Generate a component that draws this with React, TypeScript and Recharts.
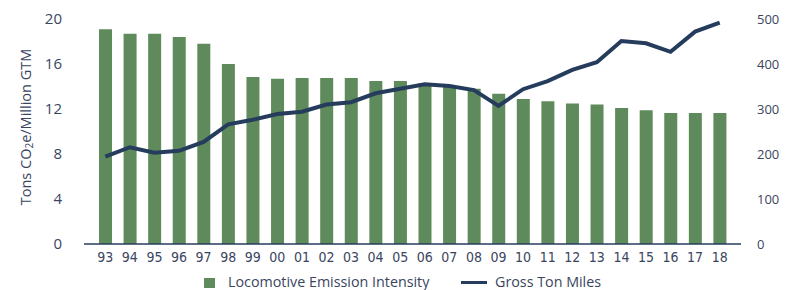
import React from "react";
import { ComposedChart, Bar, Line, XAxis, YAxis, Legend, Label } from "recharts";

const years = ["93","94","95","96","97","98","99","00","01","02","03","04","05","06","07","08","09","10","11","12","13","14","15","16","17","18"];
const emissionIntensity = [19.1,18.7,18.7,18.4,17.8,16.0,14.85,14.7,14.75,14.75,14.75,14.5,14.5,14.3,14.0,13.8,13.35,12.9,12.7,12.5,12.4,12.1,11.9,11.65,11.65,11.65];
const grossTonMiles = [194,215,203,207,227,266,276,289,294,310,315,335,345,355,351,342,307,344,362,387,404,451,446,427,472,492];
const leftTicks = [0,4,8,12,16,20];
const rightTicks = [0,100,200,300,400,500];

const data = years.map((y, i) => ({ year: y, intensity: emissionIntensity[i], gtm: grossTonMiles[i] }));

const GREEN = "#5f8a5b";
const NAVY = "#263c5c";
const TEXT = "#3a4560";

const renderTitle = () => (
  <text x={25} y={127} transform="rotate(-90 25 127)" textAnchor="middle" dominantBaseline="central" fill={TEXT} fontFamily="'Open Sans', sans-serif" fontSize={14.5}>
    <tspan>Tons CO</tspan>
    <tspan fontSize={10} dy={4}>2</tspan>
    <tspan dy={-4}>e/Million GTM</tspan>
  </text>
);

const renderLegend = () => (
  <div style={{ height: 26, position: "relative", fontFamily: "'Open Sans', sans-serif", fontSize: 14.3, color: TEXT }}>
    <div style={{ position: "absolute", left: 204, top: 14, width: 11, height: 10, background: GREEN }} />
    <div style={{ position: "absolute", left: 228, top: 8, lineHeight: "20px", whiteSpace: "nowrap" }}>Locomotive Emission Intensity</div>
    <div style={{ position: "absolute", left: 461, top: 17, width: 26, height: 3, background: NAVY }} />
    <div style={{ position: "absolute", left: 495, top: 8, lineHeight: "20px", whiteSpace: "nowrap" }}>Gross Ton Miles</div>
  </div>
);

export default function App() {
  return (
    <div style={{ position: "absolute", left: 0, top: 0, width: 793, height: 290, background: "#fff" }}>
      <ComposedChart width={793} height={290} data={data} margin={{ top: 19, right: 0, left: 0, bottom: 0 }}>
        <XAxis
          dataKey="year"
          height={20}
          padding={{ left: 9, right: 9 }}
          tickLine={false}
          axisLine={{ stroke: NAVY, strokeWidth: 1.5 }}
          interval={0}
          tick={{ fill: TEXT, fontSize: 14, fontFamily: "'Liberation Sans Narrow', 'DejaVu Sans Condensed', sans-serif" }}
        />
        <YAxis
          yAxisId="left"
          orientation="left"
          width={84}
          domain={[0, 20]}
          ticks={leftTicks}
          axisLine={false}
          tickLine={false}
          tickMargin={16}
          tick={{ fill: TEXT, fontSize: 15, fontFamily: "'Open Sans', sans-serif" }}
        >
          <Label content={renderTitle} />
        </YAxis>
        <YAxis
          yAxisId="right"
          orientation="right"
          width={52}
          domain={[0, 500]}
          ticks={rightTicks}
          axisLine={false}
          tickLine={false}
          tickMargin={10}
          tick={{ fill: TEXT, fontSize: 13, fontFamily: "'Open Sans', sans-serif" }}
        />
        <Legend verticalAlign="bottom" align="left" content={renderLegend} wrapperStyle={{ left: 0, width: 793 }} />
        <Bar yAxisId="left" dataKey="intensity" name="Locomotive Emission Intensity" fill={GREEN} barSize={13} isAnimationActive={false} />
        <Line yAxisId="right" dataKey="gtm" name="Gross Ton Miles" type="linear" stroke={NAVY} strokeWidth={4} dot={false} activeDot={false} isAnimationActive={false} />
      </ComposedChart>
    </div>
  );
}
